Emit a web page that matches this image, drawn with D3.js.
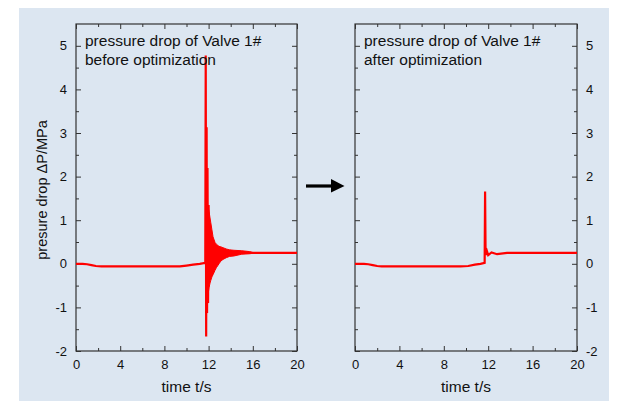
<!DOCTYPE html>
<html><head><meta charset="utf-8">
<script src="https://cdn.jsdelivr.net/npm/d3@7"></script>
<style>
html,body{margin:0;padding:0;background:#fff;}
svg text{font-family:"Liberation Sans",Arial,sans-serif;fill:#111;}
</style></head>
<body>
<svg id="c" width="619" height="410"></svg>
<script>
// ---- data ----
const xMajorTicks = [0, 4, 8, 12, 16, 20];
const xMinorTicks = [2, 6, 10, 14, 18];
const yMajorTicks = [-2, -1, 0, 1, 2, 3, 4, 5];
const yMinorTicks = [-1.5, -0.5, 0.5, 1.5, 2.5, 3.5, 4.5];
const xLabel = "time t/s";
const yLabel = "presure drop \u0394P/MPa";
const titleBefore = ["pressure drop of Valve 1#", "before optimization"];
const titleAfter = ["pressure drop of Valve 1#", "after optimization"];

// before optimization: main trace
const beforeT = [0, 0.6, 1.0, 1.4, 1.8, 2.3, 4, 6, 8, 9.4, 10.0, 10.6, 11.2, 11.7, 11.74, 11.78, 11.82, 11.86, 11.9, 11.95, 12.0, 12.05, 13.0, 14.0, 15.7, 20];
const beforeV = [0, 0, -0.01, -0.03, -0.05, -0.06, -0.06, -0.06, -0.06, -0.06, -0.04, -0.02, 0.0, 0.02, 4.78, -1.67, 3.13, -1.13, 2.2, -0.9, 1.35, 0.3, 0.25, 0.25, 0.25, 0.25];
// before optimization: oscillation band (dense ringing)
const bandT  = [11.86, 11.95, 12.04, 12.13, 12.2, 12.3, 12.4, 12.58, 12.7, 12.94, 13.1, 13.3, 13.6, 13.9, 14.3, 15.0, 15.7, 16.0];
const bandHi = [1.35, 1.3, 1.2, 1.05, 0.94, 0.78, 0.62, 0.49, 0.45, 0.40, 0.39, 0.37, 0.34, 0.32, 0.31, 0.30, 0.28, 0.26];
const bandLo = [-1.13, -0.7, -0.55, -0.44, -0.38, -0.3, -0.25, -0.15, -0.09, 0.0, 0.06, 0.1, 0.14, 0.17, 0.18, 0.22, 0.23, 0.24];

// after optimization: main trace
const afterT = [0, 0.8, 1.2, 1.6, 2.0, 2.4, 4, 6, 8, 9.5, 10.2, 10.8, 11.3, 11.68, 11.72, 11.76, 11.82, 11.9, 12.0, 12.3, 12.8, 13.7, 16, 20];
const afterV = [0, 0, -0.01, -0.03, -0.05, -0.06, -0.06, -0.06, -0.06, -0.06, -0.05, -0.02, 0.0, 0.02, 1.66, 0.34, 0.2, 0.28, 0.2, 0.26, 0.22, 0.25, 0.25, 0.25];

// ---- drawing ----
const svg = d3.select("#c");
svg.append("rect").attr("x", 19).attr("y", 8).attr("width", 590).attr("height", 393).attr("fill", "#dce6f1");

const plotTop = 24, plotBot = 351;
const y = d3.scaleLinear().domain([-2, 5.5]).range([plotBot, plotTop]);
const fmt = d => String(d);

function panel(x0, x1, labelSide, T, V, band, titles) {
  const x = d3.scaleLinear().domain([0, 20]).range([x0, x1]);
  const g = svg.append("g");
  const axColor = "#333";
  g.append("rect").attr("x", x0).attr("y", plotTop).attr("width", x1 - x0).attr("height", plotBot - plotTop)
    .attr("fill", "none").attr("stroke", axColor).attr("stroke-width", 1.2);

  function styleAxis(sel) {
    sel.select(".domain").remove();
    sel.selectAll("line").attr("stroke", axColor).attr("stroke-width", 1);
    sel.selectAll("text").attr("font-size", 13).attr("fill", "#111")
      .style("font-family", "'Liberation Sans', Arial, sans-serif");
  }
  g.append("g").attr("transform", `translate(0,${plotBot})`)
    .call(d3.axisBottom(x).tickValues(xMajorTicks).tickSize(-5).tickPadding(9).tickFormat(fmt)).call(styleAxis);
  g.append("g").attr("transform", `translate(0,${plotBot})`)
    .call(d3.axisBottom(x).tickValues(xMinorTicks).tickSize(-3).tickFormat("")).call(styleAxis);
  g.append("g").attr("transform", `translate(0,${plotTop})`)
    .call(d3.axisTop(x).tickValues(xMajorTicks).tickSize(-5).tickFormat("")).call(styleAxis);
  g.append("g").attr("transform", `translate(0,${plotTop})`)
    .call(d3.axisTop(x).tickValues(xMinorTicks).tickSize(-3).tickFormat("")).call(styleAxis);
  g.append("g").attr("transform", `translate(${x0},0)`)
    .call(d3.axisLeft(y).tickValues(yMajorTicks).tickSize(-5).tickPadding(labelSide === "left" ? 9 : 0)
      .tickFormat(labelSide === "left" ? fmt : "")).call(styleAxis);
  g.append("g").attr("transform", `translate(${x0},0)`)
    .call(d3.axisLeft(y).tickValues(yMinorTicks).tickSize(-3).tickFormat("")).call(styleAxis);
  g.append("g").attr("transform", `translate(${x1},0)`)
    .call(d3.axisRight(y).tickValues(yMajorTicks).tickSize(-5).tickPadding(labelSide === "right" ? 9 : 0)
      .tickFormat(labelSide === "right" ? fmt : "")).call(styleAxis);
  g.append("g").attr("transform", `translate(${x1},0)`)
    .call(d3.axisRight(y).tickValues(yMinorTicks).tickSize(-3).tickFormat("")).call(styleAxis);

  if (band) {
    const area = d3.area().x(d => x(d.t)).y0(d => y(d.lo)).y1(d => y(d.hi));
    const bd = band.T.map((t, i) => ({t, hi: band.Hi[i], lo: band.Lo[i]}));
    g.append("path").datum(bd).attr("d", area).attr("fill", "#ff0000").attr("stroke", "#ff0000").attr("stroke-width", 1);
  }
  const line = d3.line().x(d => x(d[0])).y(d => y(d[1]));
  g.append("path").datum(T.map((t, i) => [t, V[i]])).attr("d", line)
    .attr("fill", "none").attr("stroke", "#ff0000").attr("stroke-width", 2.2).attr("stroke-linejoin", "miter");

  titles.forEach((s, i) => {
    g.append("text").attr("x", x0 + 9).attr("y", 46 + i * 19).attr("font-size", 15.5).text(s);
  });
  g.append("text").attr("x", (x0 + x1) / 2).attr("y", 392).attr("text-anchor", "middle").attr("font-size", 15.5).text(xLabel);
}

panel(76, 297, "left", beforeT, beforeV, {T: bandT, Hi: bandHi, Lo: bandLo}, titleBefore);
panel(355, 577, "right", afterT, afterV, null, titleAfter);

svg.append("text").attr("transform", "translate(47,190) rotate(-90)").attr("text-anchor", "middle")
  .attr("font-size", 14.5).text(yLabel);

svg.append("path").attr("d", "M306,186 L333,186")
  .attr("stroke", "#000").attr("stroke-width", 3.2).attr("fill", "none");
svg.append("path").attr("d", "M331,179 L344.5,186 L331,192.5 Z").attr("fill", "#000");
</script>
</body></html>
